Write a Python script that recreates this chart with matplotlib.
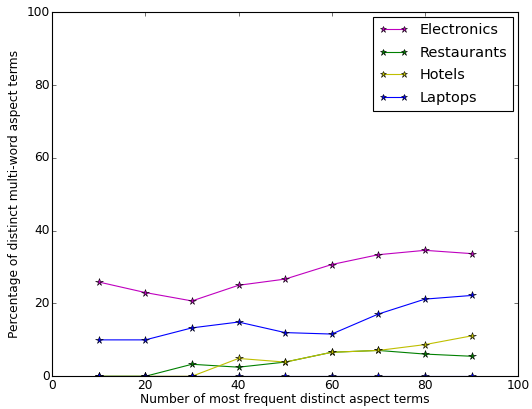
import matplotlib
matplotlib.use('Agg')
import matplotlib.pyplot as plt

plt.style.use('classic')

x = [10, 20, 30, 40, 50, 60, 70, 80, 90]
electronics = [25.9, 23.0, 20.7, 25.0, 26.7, 30.7, 33.4, 34.6, 33.7]
restaurants = [0, 0, 3.3, 2.5, 3.9, 6.6, 7.1, 6.1, 5.5]
hotels = [0, 0, 0, 4.9, 3.9, 6.6, 7.1, 8.7, 11.1]
laptops = [10.0, 10.0, 13.3, 14.9, 12.0, 11.6, 17.1, 21.2, 22.2]
baseline = [0, 0, 0, 0, 0, 0, 0, 0, 0]

fig = plt.figure(figsize=(6.65, 5.1125), dpi=80)
ax = fig.add_axes([0.098, 0.08, 0.876, 0.89])

ax.plot(x, electronics, 'm*-', label='Electronics', markersize=7)
ax.plot(x, restaurants, 'g*-', label='Restaurants', markersize=7)
ax.plot(x, hotels, 'y*-', label='Hotels', markersize=7)
ax.plot(x, laptops, 'b*-', label='Laptops', markersize=7)
ax.plot(x, baseline, 'b*-', markersize=7)

ax.set_xlim(0, 100)
ax.set_ylim(0, 100)
ax.set_xlabel('Number of most frequent distinct aspect terms', fontsize=11, labelpad=1)
ax.set_ylabel('Percentage of distinct multi-word aspect terms', fontsize=11)
ax.tick_params(labelsize=11, pad=2)
ax.legend(loc='upper right', fontsize=13, markerscale=0.8, borderaxespad=0.35,
          labelspacing=0.6)

fig.savefig('out.png', dpi=80)
